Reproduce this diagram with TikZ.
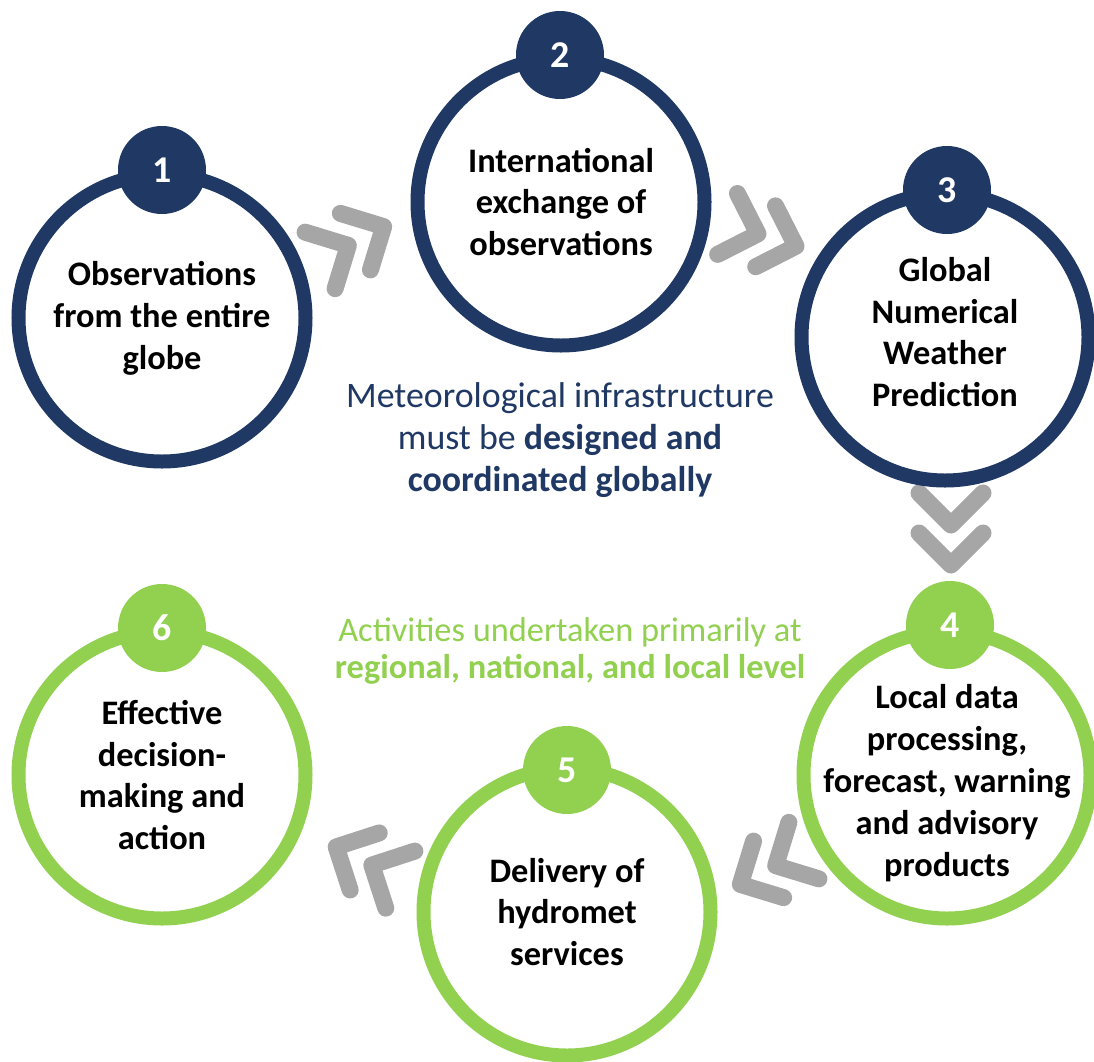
\documentclass[tikz,border=0pt]{standalone}
\usepackage{fontspec}
\setmainfont{Carlito}
\definecolor{navy}{HTML}{1F3864}
\definecolor{lgreen}{HTML}{92D050}
\definecolor{chev}{HTML}{A6A6A6}
\tikzset{
  ring/.style={circle,draw=#1,line width=14bp,minimum size=287bp,inner sep=0pt,align=center,text=black,font=\fontsize{34.5}{42}\selectfont\bfseries},
  ringtext/.style={align=center,text=black,font=\fontsize{34.5}{42}\selectfont\bfseries},
  badge/.style={circle,fill=#1,minimum size=88bp,inner sep=0pt,text=white,font=\fontsize{38}{40}\selectfont\bfseries},
  chevron/.style={draw=chev,line width=17bp,line cap=round,line join=round},
  dblchev/.pic={
    \draw[chevron] (-52,-32) -- (-20,0) -- (-52,32);
    \draw[chevron] (-12,-32) -- (20,0) -- (-12,32);
  }
}
\begin{document}
\begin{tikzpicture}[x=1bp,y=-1bp]
\useasboundingbox (0,0) rectangle (1094,1062);
\fill[white] (0,0) rectangle (1094,1062);

% chevrons
\pic[rotate=28] at (366,236) {dblchev};
\pic[rotate=-18] at (777,240) {dblchev};
\pic[rotate=-90] at (951,545) {dblchev};
\pic[rotate=208] at (758,875) {dblchev};
\pic[rotate=153] at (354,856) {dblchev};

% rings
\node[ring=navy] (c1) at (162,318) {Observations\\from the entire\\globe};
\node[ring=navy] (c2) at (561,202) {International\\exchange of\\observations};
\node[ring=navy] (c3) at (945,337) {};
\node[ringtext] (t3) at (c3.center) [yshift=5bp] {Global\\Numerical\\Weather\\Prediction};
\node[ring=lgreen] (c4) at (947,775) {};
\node[ringtext] (t4) at (c4.center) [yshift=-8bp]
  {Local data\\processing,\\forecast, warning\\and advisory\\products};
\node[ring=lgreen] (c5) at (567,912) {Delivery of\\hydromet\\services};
\node[ring=lgreen] (c6) at (162,775) {Effective\\decision-\\making and\\action};

% badges
\node[badge=navy] (b1) at (162,170) {1};
\node[badge=navy] (b2) at (560,55) {2};
\node[badge=navy] (b3) at (947,190) {3};
\node[badge=lgreen] (b4) at (950,625) {4};
\node[badge=lgreen] (b5) at (567,770) {5};
\node[badge=lgreen] (b6) at (162,628) {6};

% central texts
\node[text=navy,align=center,font=\fontsize{36}{42.5}\selectfont] (mid) at (560,440)
  {Meteorological infrastructure\\must be \textbf{designed and}\\\textbf{coordinated globally}};
\node[text=lgreen,align=center,font=\fontsize{34.5}{38}\selectfont] (act) at (570,651)
  {Activities undertaken primarily at\\\textbf{regional, national, and local level}};
\end{tikzpicture}
\end{document}
